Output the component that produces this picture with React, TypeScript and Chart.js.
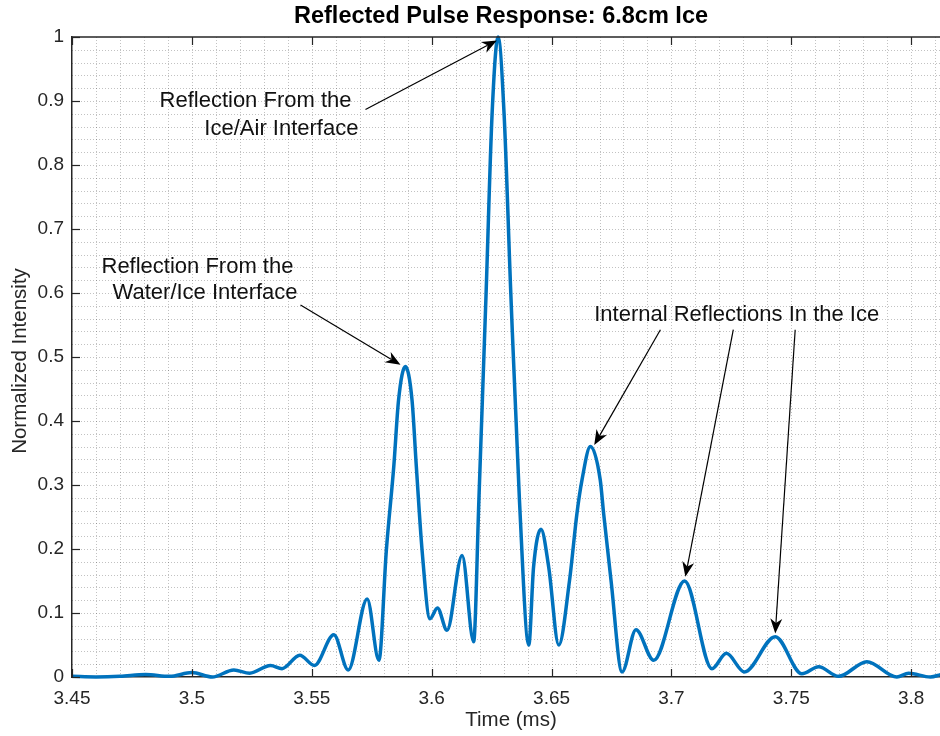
import { useEffect, useRef } from "react";
import { Chart, registerables } from "chart.js";

Chart.register(...registerables);

// Reflected pulse envelope: time (ms) and normalized intensity
const times = [
  3.45, 3.46, 3.47, 3.4807, 3.4907, 3.5, 3.5085, 3.5175, 3.5241, 3.5328,
  3.5376, 3.545, 3.5511, 3.5592, 3.5652, 3.5731, 3.578,
  3.5811, 3.5842, 3.5862, 3.589, 3.5918, 3.5936, 3.596, 3.5993,
  3.6024, 3.6064, 3.6127, 3.6175,
  3.6197, 3.6227, 3.6252, 3.6277, 3.6302, 3.633, 3.6366, 3.6405,
  3.6425, 3.6456, 3.6488, 3.653,
  3.6575, 3.6606, 3.6627, 3.6662, 3.6703, 3.6717, 3.6748, 3.6794,
  3.6852, 3.6926, 3.7055, 3.7169, 3.7229, 3.7304, 3.7433, 3.7544,
  3.7614, 3.7697, 3.7815, 3.794, 3.7989, 3.808, 3.8125,
];
const intensity = [
  0.001, 0.0, 0.001, 0.004, 0.001, 0.007, 0.0, 0.011, 0.006, 0.018,
  0.013, 0.034, 0.018, 0.066, 0.011, 0.122, 0.026,
  0.198, 0.329, 0.433, 0.485, 0.433, 0.329, 0.198, 0.091,
  0.108, 0.073, 0.19, 0.055,
  0.277, 0.6, 0.88, 1.0, 0.88, 0.6, 0.277, 0.05,
  0.172, 0.231, 0.172, 0.05,
  0.151, 0.256, 0.308, 0.36, 0.308, 0.256, 0.151, 0.008,
  0.074, 0.026, 0.15, 0.013, 0.037, 0.008, 0.063, 0.005,
  0.016, 0.001, 0.024, 0.0, 0.006, 0.0, 0.004,
];

const xTickValues = [3.45, 3.5, 3.55, 3.6, 3.65, 3.7, 3.75, 3.8];
const yTickValues = [0, 0.1, 0.2, 0.3, 0.4, 0.5, 0.6, 0.7, 0.8, 0.9, 1];
const xMinorStep = 0.01;
const yMinorStep = 0.02;
const xMin = 3.45;
const xMax = 3.812;

const titleText = "Reflected Pulse Response: 6.8cm Ice";
const xLabel = "Time (ms)";
const yLabel = "Normalized Intensity";

// Callout text lines, anchored (left edge, middle) in data units
const noteLines = [
  { text: "Reflection From the", t: 3.4865, v: 0.8994 },
  { text: "Ice/Air Interface", t: 3.5052, v: 0.8571 },
  { text: "Reflection From the", t: 3.4623, v: 0.6412 },
  { text: "Water/Ice Interface", t: 3.4669, v: 0.6005 },
  { text: "Internal Reflections In the Ice", t: 3.6678, v: 0.566 },
];

// Callout arrows: tail -> head, in data units
const arrows = [
  { t1: 3.5724, v1: 0.8868, t2: 3.6272, v2: 0.9947 },
  { t1: 3.5453, v1: 0.5813, t2: 3.587, v2: 0.4878 },
  { t1: 3.6954, v1: 0.5426, t2: 3.6678, v2: 0.3626 },
  { t1: 3.7258, v1: 0.5426, t2: 3.7058, v2: 0.1565 },
  { t1: 3.7516, v1: 0.5426, t2: 3.7433, v2: 0.0679 },
];

const FONT = "'Liberation Sans', Arial, Helvetica, sans-serif";
const AXIS_COLOR = "#262626";
const LINE_COLOR = "#0072BD";

function drawArrow(ctx: CanvasRenderingContext2D, x1: number, y1: number, x2: number, y2: number) {
  const ang = Math.atan2(y2 - y1, x2 - x1);
  const dx = Math.cos(ang);
  const dy = Math.sin(ang);
  const L = 15;
  const W = 6;
  const nx = x2 - dx * L * 0.7;
  const ny = y2 - dy * L * 0.7;
  ctx.beginPath();
  ctx.moveTo(x1, y1);
  ctx.lineTo(nx, ny);
  ctx.stroke();
  ctx.beginPath();
  ctx.moveTo(x2, y2);
  ctx.lineTo(x2 - dx * L - dy * W, y2 - dy * L + dx * W);
  ctx.lineTo(nx, ny);
  ctx.lineTo(x2 - dx * L + dy * W, y2 - dy * L - dx * W);
  ctx.closePath();
  ctx.fill();
}

const decorPlugin = {
  id: "decor",
  beforeDatasetsDraw(chart: any) {
    const { ctx, chartArea: a, scales } = chart;
    const x = scales.x;
    const y = scales.y;
    ctx.save();
    ctx.lineWidth = 1;
    ctx.strokeStyle = "rgba(0,0,0,0.24)";
    ctx.setLineDash([1, 2]);
    const nx = Math.floor((x.max - x.min) / xMinorStep + 1e-6);
    for (let i = 1; i <= nx; i++) {
      const px = Math.round(x.getPixelForValue(x.min + i * xMinorStep)) + 0.5;
      if (px >= a.right) break;
      ctx.beginPath();
      ctx.moveTo(px, a.top);
      ctx.lineTo(px, a.bottom);
      ctx.stroke();
    }
    const ny = Math.round((y.max - y.min) / yMinorStep);
    for (let i = 1; i < ny; i++) {
      const py = Math.round(y.getPixelForValue(y.min + i * yMinorStep)) + 0.5;
      ctx.beginPath();
      ctx.moveTo(a.left, py);
      ctx.lineTo(a.right, py);
      ctx.stroke();
    }
    ctx.restore();
  },
  afterDatasetsDraw(chart: any) {
    const { ctx, chartArea: a, scales } = chart;
    const x = scales.x;
    const y = scales.y;
    ctx.save();
    // top box edge
    ctx.strokeStyle = AXIS_COLOR;
    ctx.lineWidth = 1.5;
    ctx.beginPath();
    ctx.moveTo(a.left, a.top);
    ctx.lineTo(a.right, a.top);
    ctx.stroke();
    // inward tick marks
    const tl = 8;
    ctx.lineWidth = 1.2;
    xTickValues.forEach((v) => {
      const px = Math.round(x.getPixelForValue(v)) + 0.5;
      ctx.beginPath();
      ctx.moveTo(px, a.bottom);
      ctx.lineTo(px, a.bottom - tl);
      ctx.moveTo(px, a.top);
      ctx.lineTo(px, a.top + tl);
      ctx.stroke();
    });
    yTickValues.forEach((v) => {
      const py = Math.round(y.getPixelForValue(v)) + 0.5;
      ctx.beginPath();
      ctx.moveTo(a.left, py);
      ctx.lineTo(a.left + tl, py);
      ctx.stroke();
    });

    // callouts
    ctx.fillStyle = "#000";
    ctx.strokeStyle = "#000";
    ctx.lineWidth = 1.2;
    arrows.forEach((ar) => {
      drawArrow(
        ctx,
        x.getPixelForValue(ar.t1),
        y.getPixelForValue(ar.v1),
        x.getPixelForValue(ar.t2),
        y.getPixelForValue(ar.v2)
      );
    });
    ctx.font = `22px ${FONT}`;
    ctx.textAlign = "left";
    ctx.textBaseline = "middle";
    ctx.fillStyle = "#111";
    noteLines.forEach((n) => {
      ctx.fillText(n.text, x.getPixelForValue(n.t), y.getPixelForValue(n.v));
    });
    ctx.restore();
  },
  afterDraw(chart: any) {
    const { ctx, chartArea: a } = chart;
    const cx = (a.left + a.right) / 2;
    ctx.save();
    ctx.fillStyle = "#000";
    ctx.textAlign = "center";
    ctx.textBaseline = "middle";
    ctx.font = `bold 23.5px ${FONT}`;
    ctx.fillText(titleText, cx - 5, 17);
    ctx.fillStyle = AXIS_COLOR;
    ctx.font = `20.5px ${FONT}`;
    ctx.fillText(xLabel, cx + 5, 720);
    ctx.translate(20, (a.top + a.bottom) / 2 + 4);
    ctx.rotate(-Math.PI / 2);
    ctx.fillText(yLabel, 0, 0);
    ctx.restore();
  },
};

export default function App() {
  const canvasRef = useRef<HTMLCanvasElement | null>(null);

  useEffect(() => {
    const canvas = canvasRef.current;
    if (!canvas) return;
    const points = times.map((t, i) => ({ x: t, y: intensity[i] }));
    const chart = new Chart(canvas, {
      type: "line",
      data: {
        datasets: [
          {
            data: points,
            borderColor: LINE_COLOR,
            borderWidth: 3.5,
            pointRadius: 0,
            cubicInterpolationMode: "monotone",
            clip: 4,
          },
        ],
      },
      options: {
        animation: false,
        responsive: false,
        devicePixelRatio: 1,
        layout: { padding: { top: 37, left: 0, right: 0, bottom: 0 } },
        plugins: {
          legend: { display: false },
          title: { display: false },
          tooltip: { enabled: false },
        },
        scales: {
          x: {
            type: "linear",
            min: xMin,
            max: xMax,
            afterFit: (s: any) => {
              s.height = 59;
            },
            afterBuildTicks: (s: any) => {
              s.ticks = xTickValues.map((v) => ({ value: v }));
            },
            grid: { display: false, drawTicks: false },
            border: { display: true, color: AXIS_COLOR, width: 1.5 },
            ticks: {
              autoSkip: false,
              maxRotation: 0,
              padding: 10,
              color: AXIS_COLOR,
              font: { family: FONT, size: 19 },
              callback: (v: any) => String(+(+v).toFixed(2)),
            },
          },
          y: {
            type: "linear",
            min: 0,
            max: 1,
            afterFit: (s: any) => {
              s.width = 72;
            },
            afterBuildTicks: (s: any) => {
              s.ticks = yTickValues.map((v) => ({ value: v }));
            },
            grid: { display: false, drawTicks: false },
            border: { display: true, color: AXIS_COLOR, width: 1.5 },
            ticks: {
              autoSkip: false,
              padding: 8,
              color: AXIS_COLOR,
              font: { family: FONT, size: 19 },
              callback: (v: any) => String(+(+v).toFixed(1)),
            },
          },
        },
      },
      plugins: [decorPlugin],
    });
    return () => chart.destroy();
  }, []);

  return (
    <div style={{ position: "absolute", left: 0, top: 0, width: 940, height: 736, background: "#fff" }}>
      <canvas ref={canvasRef} width={940} height={736} />
    </div>
  );
}
